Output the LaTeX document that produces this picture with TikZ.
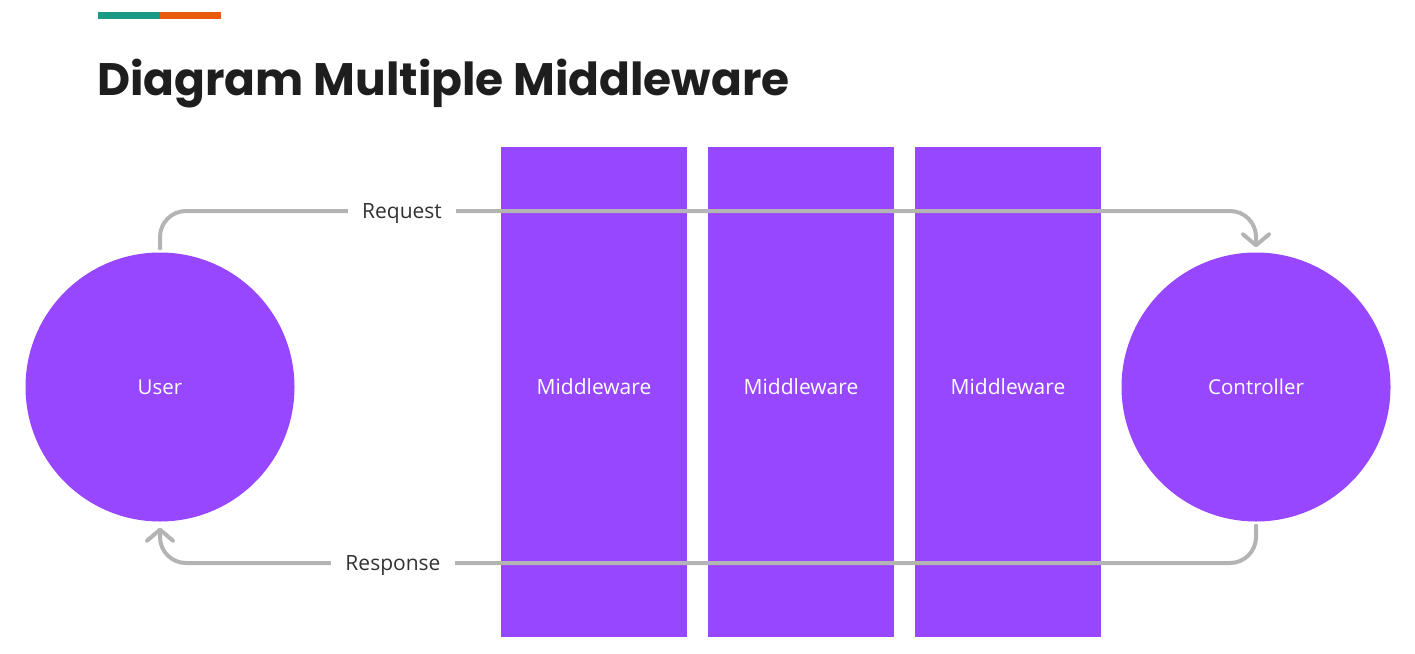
\documentclass[tikz,border=0pt]{standalone}
\usepackage{fontspec}
\setmainfont{Open Sans}
\newfontfamily\titlefont{Poppins}
\usetikzlibrary{arrows.meta}
\definecolor{mwpurple}{HTML}{9747FF}
\definecolor{linegray}{HTML}{B4B4B4}
\definecolor{txtgray}{HTML}{333333}
\definecolor{barteal}{HTML}{1A9A85}
\definecolor{barorange}{HTML}{E85A0E}
\definecolor{titleink}{HTML}{1E1E1E}
\begin{document}
\begin{tikzpicture}[x=1pt,y=-1pt,
  actor/.style={circle, fill=mwpurple, minimum size=269pt, inner sep=0pt,
    text=white, font=\fontsize{20.5}{24}\selectfont},
  layer/.style={rectangle, fill=mwpurple, minimum width=186pt, minimum height=490pt,
    inner sep=0pt, text height=15pt, text depth=10pt, text=white,
    font=\fontsize{21}{24}\selectfont},
  flow/.style={draw=linegray, line width=4pt, rounded corners=26pt, line cap=round},
  tip/.style={-{Straight Barb[length=11pt,width=26pt,round]}},
  lbl/.style={fill=white, inner xsep=14pt, inner ysep=4pt, text=txtgray,
    anchor=base, font=\fontsize{21}{24}\selectfont}]
\useasboundingbox (0,0) rectangle (1415,653);
% heading accent bar and title
\fill[barteal] (98,12) rectangle (160,19);
\fill[barorange] (160,12) rectangle (221,19);
\node[anchor=base west, inner sep=0pt, text=titleink,
  font=\titlefont\bfseries\fontsize{45.5}{52}\selectfont] (title) at (97,95) {Diagram Multiple Middleware};
% endpoints
\node[actor] (user) at (160,387) {User};
\node[actor] (ctrl) at (1256,387) {Controller};
% middleware layers
\node[layer] (mw1) at (594,392) {Middleware};
\node[layer] (mw2) at (801,392) {Middleware};
\node[layer] (mw3) at (1008,392) {Middleware};
% request and response flows
\coordinate (rq) at (402,211);
\coordinate (rs) at (393,563);
\draw[flow, tip] ([yshift=4pt]user.north) |- (rq) -| ([yshift=5pt]ctrl.north);
\draw[flow, tip] ([yshift=-4pt]ctrl.south) |- (rs) -| ([yshift=-6pt]user.south);
\node[lbl] (rqlbl) at ([yshift=-7pt]rq) {Request};
\node[lbl] (rslbl) at ([yshift=-7pt]rs) {Response};
\end{tikzpicture}
\end{document}
